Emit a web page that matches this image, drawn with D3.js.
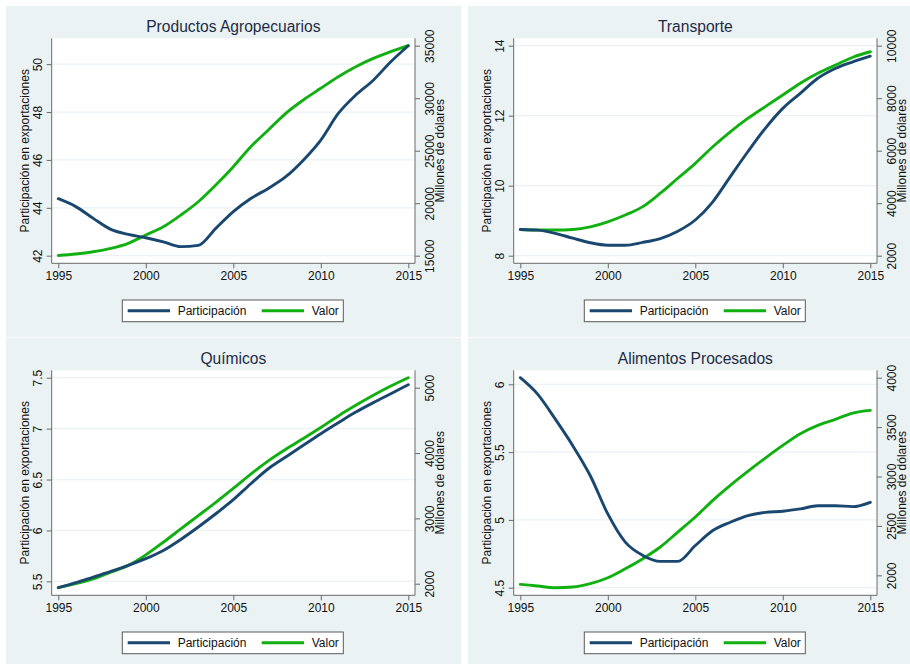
<!DOCTYPE html>
<html>
<head>
<meta charset="utf-8">
<script src="https://cdn.jsdelivr.net/npm/d3@7"></script>
<style>
  html, body { margin: 0; padding: 0; background: #ffffff; }
  svg { display: block; }
  text { font-family: "Liberation Sans", Arial, Helvetica, sans-serif; }
</style>
</head>
<body>
<svg id="chart" width="910" height="664"></svg>
<script>
// ---------------- DATA ----------------
const years = [1995,1996,1997,1998,1999,2000,2001,2002,2003,2004,2005,2006,2007,2008,2009,2010,2011,2012,2013,2014,2015];
const xTicks = [1995, 2000, 2005, 2010, 2015];

const panelTitles = ["Productos Agropecuarios", "Transporte", "Químicos", "Alimentos Procesados"];
const seriesNames = ["Participación", "Valor"];
const leftAxisTitle = "Participación en exportaciones";
const rightAxisTitle = "Millones de dólares";

// Productos Agropecuarios
const partAgro  = [44.38,44.05,43.56,43.10,42.89,42.75,42.58,42.38,42.43,43.14,43.84,44.39,44.81,45.30,45.99,46.83,47.94,48.71,49.33,50.10,50.77];
const valorAgro = [15020,15160,15380,15700,16180,16970,17760,18870,20140,21730,23480,25380,26970,28560,29830,30940,32050,33000,33790,34430,35000];
const leftTicksAgro  = [42, 44, 46, 48, 50];
const rightTicksAgro = [15000, 20000, 25000, 30000, 35000];

// Transporte
const partTrans  = [8.75,8.73,8.64,8.50,8.37,8.30,8.30,8.38,8.49,8.70,9.02,9.54,10.26,10.97,11.64,12.21,12.64,13.07,13.35,13.54,13.70];
const valorTrans = [3000,2980,2980,3000,3100,3290,3550,3870,4380,4950,5520,6150,6720,7230,7680,8120,8570,8950,9260,9560,9770];
const leftTicksTrans  = [8, 10, 12, 14];
const rightTicksTrans = [2000, 4000, 6000, 8000, 10000];

// Químicos
const partQuim  = [5.438,5.487,5.543,5.598,5.657,5.723,5.804,5.912,6.034,6.164,6.302,6.459,6.606,6.721,6.836,6.950,7.058,7.163,7.255,7.343,7.431];
const valorQuim = [1939,2000,2076,2178,2280,2442,2635,2839,3042,3246,3459,3678,3881,4059,4222,4390,4568,4730,4883,5025,5153];
const leftTicksQuim  = [5.5, 6, 6.5, 7, 7.5];
const rightTicksQuim = [2000, 3000, 4000, 5000];

// Alimentos Procesados
const partAlim  = [6.049,5.926,5.743,5.547,5.326,5.044,4.836,4.738,4.694,4.694,4.811,4.922,4.983,5.032,5.056,5.064,5.081,5.105,5.105,5.098,5.130];
const valorAlim = [1909,1892,1875,1882,1916,1976,2067,2169,2287,2438,2590,2759,2911,3052,3187,3315,3433,3518,3578,3642,3669];
const leftTicksAlim  = [4.5, 5, 5.5, 6];
const rightTicksAlim = [2000, 2500, 3000, 3500, 4000];

// ---------------- STYLE / LAYOUT ----------------
const COL_BG = "#eaf2f3";
const COL_NAVY = "#1a476f";
const COL_GREEN = "#10b010";
const COL_AXIS = "#6a6a6a";
const COL_GRID = "#eaf2f3";
const COL_TEXT = "#111111";
const COL_TITLE = "#1e2b45";
const FS = 12;

const panelW = 455, panelH = 331;
const panelOrigins = [[6, 6], [468, 6], [6, 338], [468, 338]];
const plotBox = { x0: 45.7, x1: 409, y0: 32.3, y1: 257.3 };   // white plot region
const dataBox = { x0: 52.3, x1: 402.3, y0: 39.7, y1: 249.7 };  // data range

const panels = [
  { title: panelTitles[0], part: partAgro,  valor: valorAgro,  lt: leftTicksAgro,  rt: rightTicksAgro },
  { title: panelTitles[1], part: partTrans, valor: valorTrans, lt: leftTicksTrans, rt: rightTicksTrans },
  { title: panelTitles[2], part: partQuim,  valor: valorQuim,  lt: leftTicksQuim,  rt: rightTicksQuim },
  { title: panelTitles[3], part: partAlim,  valor: valorAlim,  lt: leftTicksAlim,  rt: rightTicksAlim }
];

const svg = d3.select("#chart");
svg.append("rect").attr("width", 910).attr("height", 664).attr("fill", "#ffffff");

const fmt = d => String(d);

panels.forEach((p, i) => {
  const [ox, oy] = panelOrigins[i];
  const g = svg.append("g").attr("transform", `translate(${ox},${oy})`);

  g.append("rect").attr("width", panelW).attr("height", panelH).attr("fill", COL_BG);
  g.append("rect")
    .attr("x", plotBox.x0).attr("y", plotBox.y0)
    .attr("width", plotBox.x1 - plotBox.x0).attr("height", plotBox.y1 - plotBox.y0)
    .attr("fill", "#ffffff");

  const x = d3.scaleLinear().domain(d3.extent(years.concat(xTicks))).range([dataBox.x0, dataBox.x1]);
  const yL = d3.scaleLinear().domain(d3.extent(p.part.concat(p.lt))).range([dataBox.y1, dataBox.y0]);
  const yR = d3.scaleLinear().domain(d3.extent(p.valor.concat(p.rt))).range([dataBox.y1, dataBox.y0]);

  // gridlines
  g.append("g").selectAll("line").data(p.lt).join("line")
    .attr("x1", plotBox.x0).attr("x2", plotBox.x1)
    .attr("y1", d => yL(d)).attr("y2", d => yL(d))
    .attr("stroke", COL_GRID).attr("stroke-width", 1.2);

  // axis lines
  const axisLines = g.append("g").attr("stroke", COL_AXIS).attr("stroke-width", 1);
  axisLines.append("line").attr("x1", plotBox.x0).attr("x2", plotBox.x0).attr("y1", plotBox.y0).attr("y2", plotBox.y1);
  axisLines.append("line").attr("x1", plotBox.x1).attr("x2", plotBox.x1).attr("y1", plotBox.y0).attr("y2", plotBox.y1);
  axisLines.append("line").attr("x1", plotBox.x0).attr("x2", plotBox.x1).attr("y1", plotBox.y1).attr("y2", plotBox.y1);

  // x axis
  const gx = g.append("g").attr("transform", `translate(0,${plotBox.y1})`)
    .call(d3.axisBottom(x).tickValues(xTicks).tickFormat(fmt).tickSize(5).tickPadding(5));
  gx.select(".domain").remove();
  gx.selectAll(".tick line").attr("stroke", COL_AXIS);
  gx.selectAll(".tick text").attr("y", null).attr("dy", null).attr("y", 16.9)
    .attr("font-size", FS).attr("fill", COL_TEXT).attr("font-family", null);

  // left axis
  const gl = g.append("g").attr("transform", `translate(${plotBox.x0},0)`)
    .call(d3.axisLeft(yL).tickValues(p.lt).tickFormat(fmt).tickSize(5));
  gl.select(".domain").remove();
  gl.selectAll(".tick line").attr("stroke", COL_AXIS);
  gl.selectAll(".tick text")
    .attr("x", null).attr("dy", null)
    .attr("transform", "translate(-10,0) rotate(-90)")
    .attr("text-anchor", "middle")
    .attr("font-size", FS).attr("fill", COL_TEXT).attr("font-family", null);

  // right axis
  const gr = g.append("g").attr("transform", `translate(${plotBox.x1},0)`)
    .call(d3.axisRight(yR).tickValues(p.rt).tickFormat(fmt).tickSize(5));
  gr.select(".domain").remove();
  gr.selectAll(".tick line").attr("stroke", COL_AXIS);
  gr.selectAll(".tick text")
    .attr("x", null).attr("dy", null)
    .attr("transform", "translate(18.5,0) rotate(-90)")
    .attr("text-anchor", "middle")
    .attr("font-size", FS).attr("fill", COL_TEXT).attr("font-family", null);

  // axis titles
  const midY = (plotBox.y0 + plotBox.y1) / 2;
  g.append("text")
    .attr("transform", `translate(23,${midY}) rotate(-90)`)
    .attr("text-anchor", "middle").attr("font-size", FS).attr("fill", COL_TEXT)
    .text(leftAxisTitle);
  g.append("text")
    .attr("transform", `translate(437.5,${midY}) rotate(-90)`)
    .attr("text-anchor", "middle").attr("font-size", FS).attr("fill", COL_TEXT)
    .text(rightAxisTitle);

  // title
  g.append("text")
    .attr("x", (plotBox.x0 + plotBox.x1) / 2).attr("y", 26.3)
    .attr("text-anchor", "middle").attr("font-size", 15.6).attr("fill", COL_TITLE)
    .text(p.title);

  // lines
  const lineL = d3.line().x((d, j) => x(years[j])).y(d => yL(d)).curve(d3.curveMonotoneX);
  const lineR = d3.line().x((d, j) => x(years[j])).y(d => yR(d)).curve(d3.curveMonotoneX);
  g.append("path").datum(p.valor).attr("d", lineR)
    .attr("fill", "none").attr("stroke", COL_GREEN).attr("stroke-width", 2.9)
    .attr("stroke-linejoin", "round").attr("stroke-linecap", "round");
  g.append("path").datum(p.part).attr("d", lineL)
    .attr("fill", "none").attr("stroke", COL_NAVY).attr("stroke-width", 2.9)
    .attr("stroke-linejoin", "round").attr("stroke-linecap", "round");

  // legend
  const lg = g.append("g");
  lg.append("rect").attr("x", 116.3).attr("y", 294).attr("width", 221).attr("height", 21.7)
    .attr("fill", "#ffffff").attr("stroke", "#5a5a5a").attr("stroke-width", 1);
  const legendItems = [
    { name: seriesNames[0], color: COL_NAVY, lx: 121.7, tx: 171.7 },
    { name: seriesNames[1], color: COL_GREEN, lx: 255.7, tx: 305.7 }
  ];
  legendItems.forEach(it => {
    lg.append("line").attr("x1", it.lx).attr("x2", it.lx + 42.3).attr("y1", 304.7).attr("y2", 304.7)
      .attr("stroke", it.color).attr("stroke-width", 2.9);
    lg.append("text").attr("x", it.tx).attr("y", 308.9)
      .attr("font-size", FS).attr("fill", COL_TEXT).text(it.name);
  });
});
</script>
</body>
</html>
